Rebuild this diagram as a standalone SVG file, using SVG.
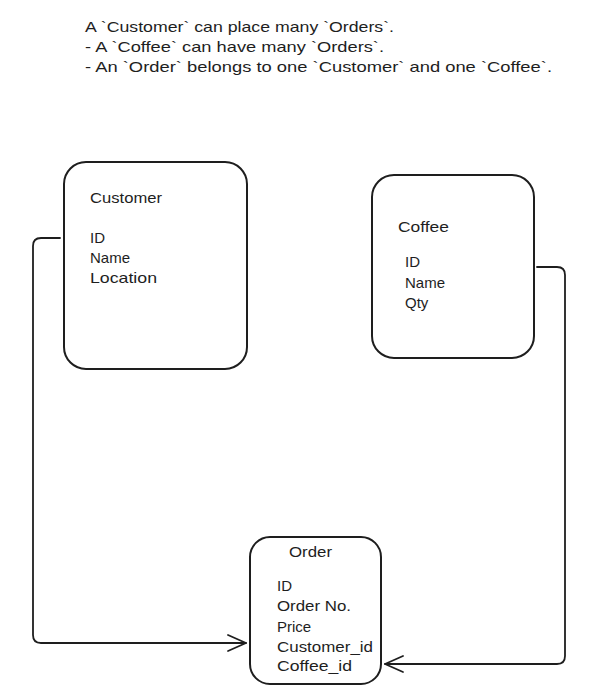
<svg xmlns="http://www.w3.org/2000/svg" width="596" height="700" viewBox="0 0 596 700">
<style>
.box{fill:#ffffff;stroke:#1e1e1e;stroke-width:2}
.t{font-family:"Liberation Sans","DejaVu Sans",sans-serif;font-size:15px;fill:#1e1e1e}
.edge{fill:none;stroke:#1e1e1e;stroke-width:1.8;stroke-linecap:round;stroke-linejoin:round}
</style>
<rect width="596" height="700" fill="#ffffff"/>
<g id="note">
<text class="t" x="85" y="32" textLength="309" lengthAdjust="spacingAndGlyphs">A `Customer` can place many `Orders`.</text>
<text class="t" x="85" y="52" textLength="299" lengthAdjust="spacingAndGlyphs">- A `Coffee` can have many `Orders`.</text>
<text class="t" x="85" y="72" textLength="467" lengthAdjust="spacingAndGlyphs">- An `Order` belongs to one `Customer` and one `Coffee`.</text>
</g>
<g id="customer">
<rect class="box" x="64" y="162" width="183" height="207" rx="22"/>
<text class="t" x="90" y="203" textLength="72" lengthAdjust="spacingAndGlyphs">Customer</text>
<text class="t" x="90" y="243">ID</text>
<text class="t" x="90" y="263">Name</text>
<text class="t" x="90" y="283" textLength="67" lengthAdjust="spacingAndGlyphs">Location</text>
</g>
<g id="coffee">
<rect class="box" x="372" y="175" width="162" height="183" rx="22"/>
<text class="t" x="398" y="232" textLength="51" lengthAdjust="spacingAndGlyphs">Coffee</text>
<text class="t" x="405" y="267">ID</text>
<text class="t" x="405" y="288">Name</text>
<text class="t" x="405" y="308">Qty</text>
</g>
<g id="order">
<rect class="box" x="250" y="537" width="131" height="147" rx="20"/>
<text class="t" x="289" y="557" textLength="43" lengthAdjust="spacingAndGlyphs">Order</text>
<text class="t" x="277" y="591">ID</text>
<text class="t" x="277" y="611" textLength="74" lengthAdjust="spacingAndGlyphs">Order No.</text>
<text class="t" x="277" y="632">Price</text>
<text class="t" x="277" y="652" textLength="96" lengthAdjust="spacingAndGlyphs">Customer_id</text>
<text class="t" x="277" y="671" textLength="75" lengthAdjust="spacingAndGlyphs">Coffee_id</text>
</g>
<g id="connectors">
<path class="edge" d="M60 238 L41 238 Q33 238 33 246 L33 635 Q33 643 41 643 L246 643"/>
<path class="edge" d="M228 635 L246 643 L228 651"/>
<path class="edge" d="M537 267 L557 267 Q565 267 565 275 L565 656 Q565 664 557 664 L385 664"/>
<path class="edge" d="M403 656 L385 664 L403 672"/>
</g>
</svg>
